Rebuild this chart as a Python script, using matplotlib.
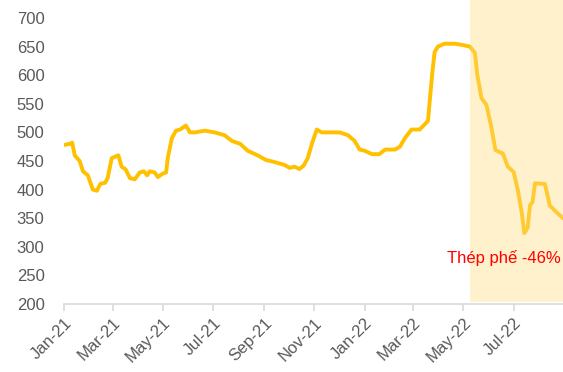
import numpy as np
import pandas as pd
import matplotlib
matplotlib.use("Agg")
import matplotlib.pyplot as plt
import matplotlib.dates as mdates

# scrap steel price
dates = ["2021-01-01", "2021-01-08", "2021-01-11", "2021-01-14", "2021-01-20", "2021-01-24",
         "2021-01-30", "2021-02-05", "2021-02-10", "2021-02-14", "2021-02-20", "2021-02-23",
         "2021-02-28", "2021-03-08", "2021-03-12", "2021-03-17", "2021-03-22", "2021-03-28",
         "2021-04-03", "2021-04-08", "2021-04-12", "2021-04-15", "2021-04-21", "2021-04-25",
         "2021-05-01", "2021-05-05", "2021-05-07", "2021-05-12", "2021-05-17", "2021-05-22",
         "2021-05-29", "2021-06-03", "2021-06-09", "2021-06-21", "2021-07-03", "2021-07-15",
         "2021-07-24", "2021-08-03", "2021-08-12", "2021-08-24", "2021-09-03", "2021-09-14",
         "2021-09-26", "2021-10-02", "2021-10-08", "2021-10-14", "2021-10-19", "2021-10-24",
         "2021-10-29", "2021-11-04", "2021-11-10", "2021-11-20", "2021-12-02", "2021-12-12",
         "2021-12-20", "2021-12-26", "2022-01-01", "2022-01-10", "2022-01-19", "2022-01-26",
         "2022-02-07", "2022-02-13", "2022-02-19", "2022-02-27", "2022-03-09", "2022-03-19",
         "2022-03-24", "2022-03-27", "2022-03-31", "2022-04-08", "2022-04-21", "2022-05-03",
         "2022-05-09", "2022-05-15", "2022-05-18", "2022-05-23", "2022-05-29", "2022-06-04",
         "2022-06-09", "2022-06-18", "2022-06-24", "2022-07-01", "2022-07-06", "2022-07-11",
         "2022-07-14", "2022-07-18", "2022-07-21", "2022-07-24", "2022-07-27", "2022-08-08",
         "2022-08-14", "2022-08-21", "2022-08-30"]
prices = [478, 480, 482, 460, 450, 432,
          425, 400, 398, 410, 412, 420,
          455, 460, 440, 435, 420, 418,
          430, 432, 425, 432, 430, 422,
          428, 430, 455, 490, 503, 505,
          512, 500, 500, 503, 500, 495,
          485, 480, 468, 460, 452, 448,
          443, 438, 440, 436, 442, 455,
          480, 505, 500, 500, 500, 495,
          485, 470, 468, 462, 462, 470,
          470, 475, 490, 505, 505, 520,
          600, 640, 650, 655, 655, 652,
          650, 639, 600, 560, 548, 509,
          469, 463, 440, 431, 400, 359,
          324, 333, 373, 378, 411, 410,
          372, 362, 350]

xticks = pd.date_range("2021-01-01", "2022-07-01", freq="2MS")
shade_start = "2022-05-09"
label = "Thép phế -46%"

plt.rcParams["font.family"] = ["Liberation Sans", "DejaVu Sans"]

fig = plt.figure(figsize=(5.63, 3.72), dpi=100)
ax = fig.add_axes([64 / 563, 68 / 372, 1 - 64 / 563, 304 / 372])

x = pd.to_datetime(dates)
ax.plot(x, prices, color="#FFC000", lw=2.8, solid_joinstyle="round",
        solid_capstyle="round", zorder=2)
ax.axvspan(pd.Timestamp(shade_start), pd.Timestamp("2022-09-30"), ymin=0.005,
           color="#FFDE80", alpha=0.4, lw=0, zorder=3)
ax.text(pd.Timestamp("2022-06-19"), 281, label, color="#FF0000", fontsize=12,
        ha="center", va="center", zorder=4)

ax.set_xlim(pd.Timestamp("2021-01-01"), pd.Timestamp("2022-08-30"))
ax.set_ylim(200, 700 + 18 / 0.572)
ax.set_yticks(np.arange(200, 701, 50))
ax.set_xticks(xticks)
ax.xaxis.set_major_formatter(mdates.DateFormatter("%b-%y"))
for lbl in ax.get_xticklabels():
    lbl.set_rotation(45)
    lbl.set_ha("right")
    lbl.set_rotation_mode("anchor")

for s in ["top", "right", "left"]:
    ax.spines[s].set_visible(False)
ax.spines["bottom"].set_color("#D9D9D9")
ax.spines["bottom"].set_linewidth(1.2)
ax.tick_params(axis="x", colors="#D9D9D9", length=5, width=1.2, labelcolor="#595959",
               labelsize=12, pad=3)
ax.tick_params(axis="y", length=0, labelcolor="#595959", labelsize=12, pad=14)

fig.savefig("out.png", dpi=100)
